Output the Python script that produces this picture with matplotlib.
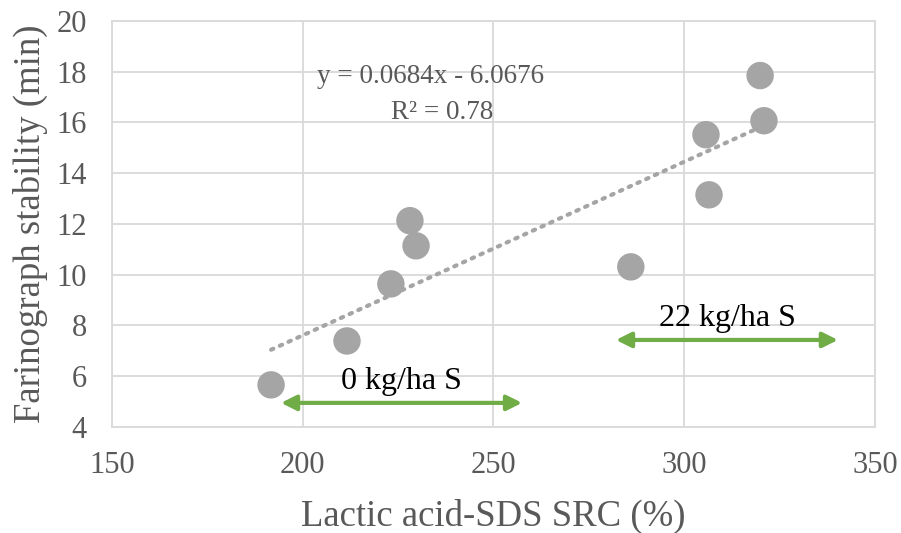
import matplotlib.pyplot as plt
import numpy as np

# data
src = [191.7, 211.6, 223.1, 228.1, 229.7, 286.0, 305.7, 306.5, 319.9, 320.9]
stability = [5.66, 7.39, 9.64, 12.13, 11.14, 10.31, 15.52, 13.15, 17.85, 16.07]
slope = 0.0684
intercept = -6.0676
r2 = 0.78

arrow_0 = (194.3, 257.5, 4.95)
arrow_22 = (282.1, 340.3, 7.43)

plt.rcParams['font.family'] = ['Liberation Serif', 'DejaVu Serif']

fig = plt.figure(figsize=(9.01, 5.33), dpi=100)
ax = fig.add_axes([0.1243, 0.1989, 0.9711 - 0.1243, 0.9606 - 0.1989])

ax.set_xlim(150, 350)
ax.set_ylim(4, 20)
ax.set_xticks(np.arange(150, 351, 50))
ax.set_yticks(np.arange(4, 21, 2))
ax.grid(True, color='#D9D9D9', lw=1.3)
ax.set_axisbelow(True)
for sp in ax.spines.values():
    sp.set_color('#D9D9D9')
    sp.set_linewidth(1.3)
ax.tick_params(length=0, labelsize=22, labelcolor='#595959')
ax.tick_params(axis='x', pad=17)
ax.tick_params(axis='y', pad=18)

# trendline over the data range
xs = np.array([min(src), max(src)])
ax.plot(xs, slope * xs + intercept, ls=(0, (0.6, 1.7)), color='#A5A5A5', lw=3,
        dash_capstyle='round', zorder=2)

ax.scatter(src, stability, s=390, color='#A5A5A5', edgecolors='none', zorder=3)

ax.text(233.4, 17.8, f'y = {slope}x - {abs(intercept)}', fontsize=19.5,
        color='#595959', ha='center', va='center')
ax.text(236.6, 16.4, f'R² = {r2}', fontsize=19.5, color='#595959',
        ha='center', va='center')

for (x0, x1, y), lab in [(arrow_0, '0 kg/ha S'), (arrow_22, '22 kg/ha S')]:
    ax.annotate('', xy=(x1, y), xytext=(x0, y),
                arrowprops=dict(arrowstyle='<|-|>,head_length=0.9,head_width=0.45',
                                color='#70AD47', lw=3, shrinkA=0, shrinkB=0))
    ax.text((x0 + x1) / 2, y + 0.85, lab, fontsize=23, ha='center', va='center',
            color='black')

ax.set_xlabel('Lactic acid-SDS SRC (%)', fontsize=26.5, color='#595959', labelpad=14)
ax.set_ylabel('Farinograph stability (min)', fontsize=26.5, color='#595959', labelpad=6)

fig.savefig('out.png', dpi=100)
